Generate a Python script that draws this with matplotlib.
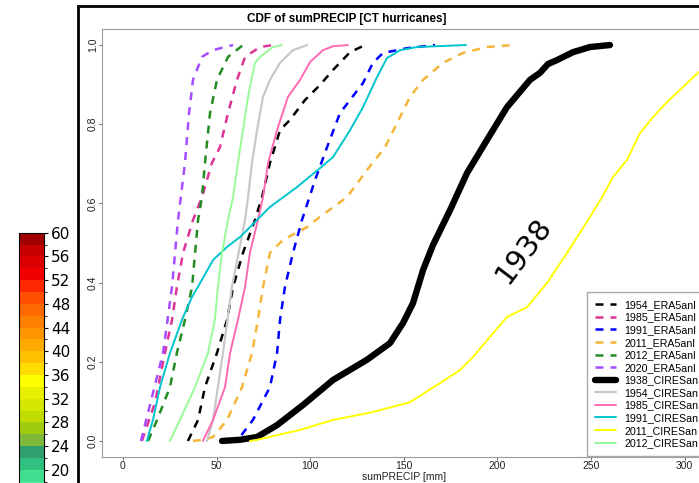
import numpy as np
import matplotlib as mpl
import matplotlib.pyplot as plt
from matplotlib.colors import ListedColormap, BoundaryNorm
from matplotlib.patches import Rectangle

plt.rcParams['font.family'] = ['Liberation Sans', 'DejaVu Sans']

W, H = 699, 483

# --- colour bar left over from the map panel ---
cbar_levels = np.arange(16, 62, 2)
cbar_colors = ['#50F0A0', '#40E090', '#30C080', '#2EA070', '#80B838', '#A0CC10',
               '#C0DC00', '#D4E800', '#E8F000', '#FFFF00', '#FFDD00', '#FFC000',
               '#FFAA00', '#FF9600', '#FF8000', '#FF6A00', '#FF5000', '#FF2800',
               '#F00000', '#DC0000', '#C80000', '#A00000']
cbar_ticks = np.arange(20, 61, 4)

# --- CDF curves: cumulative probability vs sumPRECIP [mm] ---
p_1954_era5 = [0, .053, .136, .222, .306, .389, .475, .558, .616, .702, .785, .811, .861, .899, .937, .982, 1]
x_1954_era5 = [34.7, 40.1, 43.8, 50.2, 55.6, 58.8, 64.1, 70.5, 74.3, 78.5, 83.9, 89.2, 97.2, 105.2, 112.2, 121.3, 129.3]

p_1985_era5 = [0, .096, .222, .306, .389, .475, .558, .616, .702, .742, .828, .912, .97, .995, 1]
x_1985_era5 = [10.1, 17.1, 22.4, 26.2, 28.8, 32.1, 37.4, 42.2, 47.5, 51.8, 56.1, 60.9, 65.2, 73.2, 80.1]

p_1991_era5 = [0, .01, .053, .136, .222, .306, .389, .475, .558, .659, .742, .828, .904, .955, .98, .992, 1]
x_1991_era5 = [56.1, 62.5, 69.4, 78.5, 82.3, 83.9, 86.5, 90.8, 95.6, 102.6, 109.0, 115.9, 128.2, 133.5, 138.9, 151.7, 166.7]

p_2011_era5 = [0, .003, .01, .053, .136, .222, .306, .389, .475, .508, .54, .566, .616, .684, .742, .803, .869, .912, .955, .98, .995, 1]
x_2011_era5 = [37.4, 42.7, 48.1, 55.6, 63.6, 68.9, 72.1, 74.8, 78.5, 85.5, 98.3, 105.2, 119.7, 130.3, 140.0, 146.4, 153.3, 160.3, 170.9, 181.6, 194.4, 208.3]

p_2012_era5 = [0, .053, .136, .222, .306, .389, .475, .558, .616, .702, .828, .912, .97, 1]
x_2012_era5 = [13.4, 18.2, 25.1, 28.8, 33.1, 36.9, 38.5, 40.1, 42.2, 43.8, 46.5, 50.2, 56.1, 64.1]

p_2020_era5 = [0, .222, .389, .558, .702, .828, .912, .97, .987, 1]
x_2020_era5 = [9.6, 21.4, 26.2, 29.4, 33.1, 35.3, 37.4, 42.2, 48.0, 58.8]

p_1938_cires = [0, .003, .01, .04, .091, .154, .205, .247, .298, .348, .432, .495, .583, .677, .76, .843, .912, .93, .952, .962, .982, .995, 1]
x_1938_cires = [52.9, 62.5, 71.6, 82.3, 96.2, 112.2, 130.3, 142.6, 149.6, 154.9, 160.3, 165.6, 174.7, 183.8, 194.4, 205.1, 217.4, 222.8, 227.0, 231.8, 240.4, 249.5, 260.1]

p_1954_cires = [0, .053, .222, .389, .558, .616, .702, .785, .869, .912, .955, .987, 1]
x_1954_cires = [44.9, 48.1, 53.4, 58.2, 65.2, 66.8, 68.9, 71.6, 74.8, 78.5, 83.9, 90.8, 98.3]

p_1985_cires = [0, .053, .136, .222, .306, .389, .475, .558, .616, .702, .785, .869, .912, .957, .987, .997, 1]
x_1985_cires = [42.7, 48.1, 54.5, 57.2, 61.4, 65.2, 67.8, 72.1, 74.8, 77.5, 82.3, 88.1, 94.6, 99.9, 106.8, 112.2, 120.2]

p_1991_cires = [0, .053, .136, .222, .306, .364, .407, .457, .49, .515, .54, .591, .641, .689, .717, .785, .843, .919, .967, .987, .995, 1]
x_1991_cires = [12.8, 16.0, 19.8, 25.1, 31.5, 36.9, 42.2, 48.1, 55.6, 62.5, 67.8, 78.5, 92.9, 105.2, 112.2, 121.3, 128.2, 135.7, 141.0, 148.0, 157.0, 183.2]

p_2011_cires = [0, .003, .028, .053, .073, .098, .146, .179, .212, .263, .313, .338, .399, .475, .566, .616, .667, .71, .778, .818, .856, .894, .932, .97, 1]
x_2011_cires = [67.8, 71.6, 94.6, 112.2, 133.5, 153.3, 169.3, 180.0, 187.0, 196.0, 205.1, 215.8, 226.5, 237.2, 249.5, 255.9, 261.8, 269.2, 276.2, 283.1, 290.6, 299.1, 307.7, 318.0, 335.0]

p_2012_cires = [0, .053, .136, .222, .306, .389, .475, .558, .616, .702, .785, .869, .955, .97, .995, 1]
x_2012_cires = [25.1, 30.4, 38.5, 45.4, 49.1, 50.7, 52.9, 56.1, 58.8, 61.4, 64.1, 66.8, 70.5, 73.2, 80.1, 84.9]

series = [
    ('1954_ERA5anl', x_1954_era5, p_1954_era5, '#000000', 'dash', 1.8),
    ('1985_ERA5anl', x_1985_era5, p_1985_era5, '#DD3497', 'dash', 1.8),
    ('1991_ERA5anl', x_1991_era5, p_1991_era5, '#0000FF', 'dash', 1.8),
    ('2011_ERA5anl', x_2011_era5, p_2011_era5, '#F5B53A', 'dash', 1.8),
    ('2012_ERA5anl', x_2012_era5, p_2012_era5, '#228B22', 'dash', 1.8),
    ('2020_ERA5anl', x_2020_era5, p_2020_era5, '#A64DFF', 'dash', 1.8),
    ('1938_CIRESan', x_1938_cires, p_1938_cires, '#000000', 'solid', 4.6),
    ('1954_CIRESan', x_1954_cires, p_1954_cires, '#C8C8C8', 'solid', 1.6),
    ('1985_CIRESan', x_1985_cires, p_1985_cires, '#FF69B4', 'solid', 1.4),
    ('1991_CIRESan', x_1991_cires, p_1991_cires, '#00C5CD', 'solid', 1.4),
    ('2011_CIRESan', x_2011_cires, p_2011_cires, '#FFFF00', 'solid', 1.4),
    ('2012_CIRESan', x_2012_cires, p_2012_cires, '#98FB98', 'solid', 1.4),
]


def px_box(x0, y0, x1, y1):
    return [x0 / W, 1 - y1 / H, (x1 - x0) / W, (y1 - y0) / H]


fig = plt.figure(figsize=(W / 100, H / 100), dpi=100)

# black frame of the CDF panel (cut by the image border)
fig.add_artist(Rectangle((77.5 / W, -0.5), 2.0, 1.5 - 5.5 / H, transform=fig.transFigure,
                         fill=False, ec='black', lw=2.0))

# colour bar
cax = fig.add_axes(px_box(19, 232.7, 44, 493.5))
cmap = ListedColormap(cbar_colors)
norm = BoundaryNorm(cbar_levels, cmap.N)
cb = fig.colorbar(mpl.cm.ScalarMappable(norm=norm, cmap=cmap), cax=cax, ticks=cbar_ticks)
cb.outline.set_linewidth(0.8)
cax.tick_params(labelsize=11, length=3, width=0.8, pad=2)
for t in cax.get_yticklabels():
    t.set_family('DejaVu Sans')

# CDF panel
ax = fig.add_axes(px_box(102, 29.2, 705.6, 456.8))
for label, xs, ps, col, style, lw in series:
    if style == 'dash':
        ax.plot(xs, ps, color=col, lw=lw, linestyle=(0, (3.2, 2.8)), label=label)
    else:
        ax.plot(xs, ps, color=col, lw=lw, solid_capstyle='round', label=label)

ax.set_xlim(-11.2, 311.2)
ax.set_ylim(-0.04, 1.04)
ax.set_xticks(np.arange(0, 301, 50))
ax.set_yticks(np.arange(0, 1.01, 0.2))
ax.set_yticklabels([f'{v:.1f}' for v in np.arange(0, 1.01, 0.2)], rotation=90, va='center')
ax.tick_params(labelsize=7.5, length=2.5, width=0.7, color='#666666', labelcolor='#222222', pad=0.5)
for s in ax.spines.values():
    s.set_color('#9a9a9a')
    s.set_linewidth(0.8)
ax.set_xlabel('sumPRECIP [mm]', fontsize=7.5, labelpad=0.5, color='#222222')

fig.text(347 / W, 1 - 19 / H, 'CDF of sumPRECIP [CT hurricanes]', ha='center', va='center',
         fontsize=8.5, weight='bold')

ax.text(214, 0.48, '1938', rotation=53, fontsize=21, family='DejaVu Sans',
        ha='center', va='center', rotation_mode='anchor')

ax.legend(loc='upper left', bbox_to_anchor=(587 / W, 1 - 292 / H), bbox_transform=fig.transFigure,
          fontsize=7.7, frameon=True, fancybox=False, edgecolor='#aaaaaa', framealpha=1,
          borderpad=0.75, labelspacing=0.24, handlelength=2.0, handletextpad=0.75, borderaxespad=0)

fig.savefig('out.png', dpi=100)
